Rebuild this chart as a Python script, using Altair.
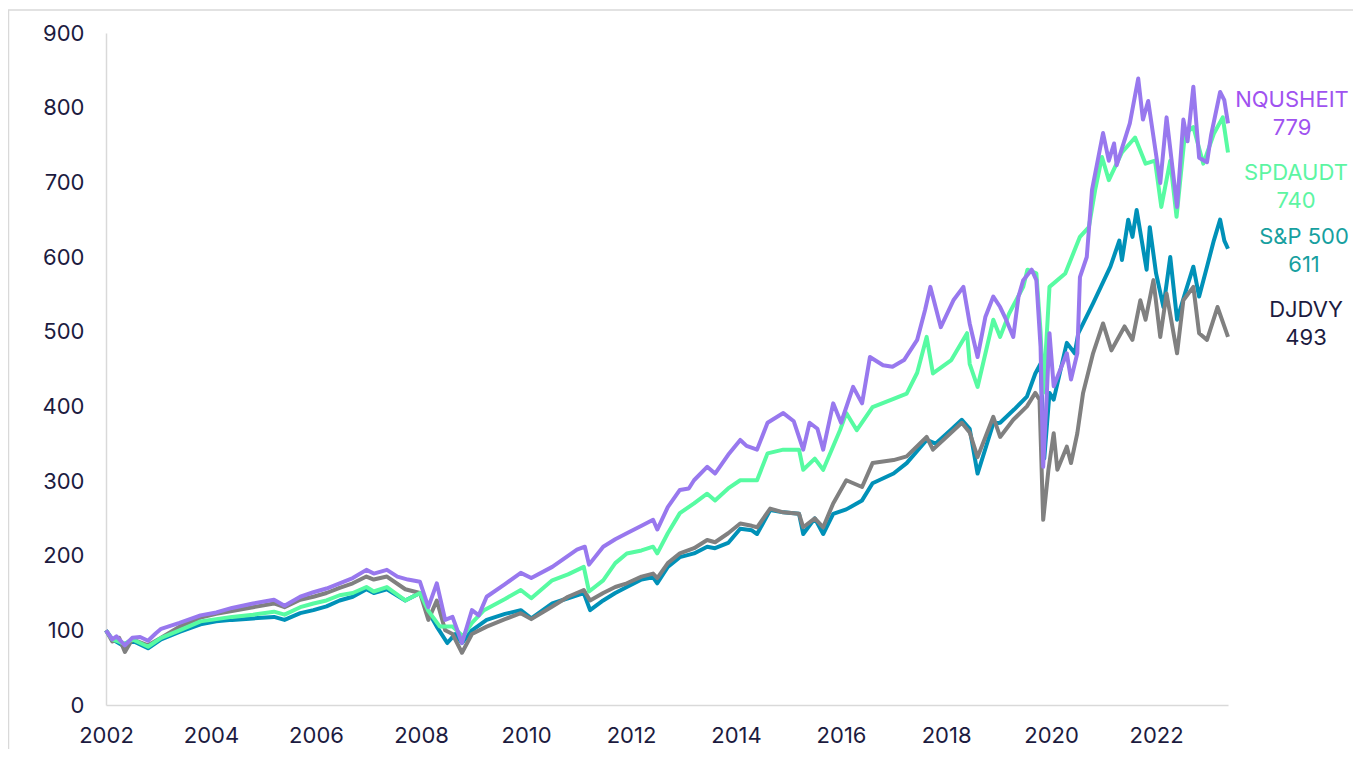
import altair as alt
import pandas as pd

# ---------------- data ----------------
nq_dates = [2002.00, 2002.12, 2002.2, 2002.36, 2002.5, 2002.65, 2002.8, 2002.95, 2003.05, 2003.4,
            2003.8, 2004.1, 2004.4, 2004.8, 2005.2, 2005.4, 2005.7, 2005.95, 2006.2, 2006.45,
            2006.7, 2006.96, 2007.1, 2007.35, 2007.55, 2007.75, 2007.98, 2008.14, 2008.3, 2008.46,
            2008.6, 2008.78, 2008.97, 2009.1, 2009.25, 2009.6, 2009.9, 2010.1, 2010.5, 2010.97,
            2011.12, 2011.2, 2011.47, 2011.7, 2011.92, 2012.2, 2012.42, 2012.5, 2012.7, 2012.93,
            2013.1, 2013.2, 2013.45, 2013.6, 2013.85, 2014.08, 2014.2, 2014.4, 2014.6, 2014.9,
            2015.1, 2015.28, 2015.4, 2015.55, 2015.66, 2015.85, 2016.0, 2016.23, 2016.4, 2016.55,
            2016.8, 2016.98, 2017.2, 2017.45, 2017.6, 2017.7, 2017.9, 2018.14, 2018.33, 2018.45,
            2018.6, 2018.75, 2018.9, 2019.03, 2019.15, 2019.28, 2019.38, 2019.47, 2019.63, 2019.72,
            2019.8, 2019.85, 2019.92, 2019.97, 2020.05, 2020.3, 2020.38, 2020.5, 2020.55, 2020.68,
            2020.78, 2020.99, 2021.1, 2021.2, 2021.25, 2021.5, 2021.66, 2021.75, 2021.85, 2022.08,
            2022.2, 2022.4, 2022.52, 2022.6, 2022.71, 2022.82, 2022.97, 2023.05, 2023.22, 2023.3,
            2023.37]
nq_values = [100, 88, 92, 80, 90, 91, 86, 96, 102, 110,
             120, 124, 130, 136, 141, 133, 145, 151, 156, 163,
             170, 181, 176, 181, 172, 168, 165, 131, 163, 114,
             118, 83, 127, 120, 145, 162, 177, 170, 185, 208,
             212, 188, 212, 222, 230, 240, 248, 235, 265, 288,
             290, 301, 319, 310, 335, 355, 347, 342, 378, 391,
             380, 342, 378, 370, 342, 404, 378, 426, 404, 466,
             455, 453, 462, 489, 529, 560, 506, 542, 560, 511,
             466, 520, 547, 533, 515, 493, 547, 569, 583, 569,
             480, 319, 418, 498, 427, 471, 436, 471, 573, 600,
             690, 766, 729, 752, 723, 779, 839, 784, 809, 699,
             787, 667, 784, 755, 828, 733, 727, 764, 821, 810,
             779]

sp_aud_dates = [2002.00, 2002.12, 2002.36, 2002.5, 2002.8, 2003.05, 2003.4, 2003.8, 2004.1, 2004.4,
                2004.8, 2005.2, 2005.4, 2005.7, 2005.95, 2006.2, 2006.45, 2006.7, 2006.96, 2007.1,
                2007.35, 2007.7, 2007.98, 2008.14, 2008.36, 2008.6, 2008.8, 2008.97, 2009.2, 2009.6,
                2009.9, 2010.1, 2010.5, 2010.8, 2011.1, 2011.2, 2011.47, 2011.7, 2011.92, 2012.2,
                2012.42, 2012.5, 2012.7, 2012.93, 2013.2, 2013.45, 2013.6, 2013.85, 2014.08, 2014.4,
                2014.6, 2014.9, 2015.2, 2015.28, 2015.5, 2015.66, 2015.98, 2016.1, 2016.3, 2016.6,
                2017.0, 2017.25, 2017.45, 2017.63, 2017.75, 2018.1, 2018.4, 2018.45, 2018.6, 2018.9,
                2019.03, 2019.2, 2019.47, 2019.55, 2019.72, 2019.8, 2019.85, 2019.92, 2019.97, 2020.27,
                2020.55, 2020.72, 2020.84, 2020.97, 2021.1, 2021.35, 2021.6, 2021.8, 2021.98, 2022.1,
                2022.27, 2022.39, 2022.55, 2022.71, 2022.9, 2023.1, 2023.27, 2023.37]
sp_aud_values = [100, 88, 82, 88, 78, 90, 100, 112, 115, 118,
                 121, 125, 121, 131, 136, 140, 147, 150, 158, 152,
                 158, 140, 150, 126, 105, 105, 92, 110, 127, 142,
                 154, 143, 167, 175, 185, 152, 167, 190, 203, 207,
                 212, 203, 230, 257, 270, 283, 274, 290, 301, 301,
                 337, 342, 342, 315, 330, 315, 368, 391, 368, 399,
                 410, 417, 445, 493, 444, 462, 498, 457, 426, 516,
                 493, 524, 560, 583, 578, 500, 418, 498, 560, 578,
                 627, 640, 690, 734, 703, 740, 760, 725, 729, 667,
                 729, 654, 765, 774, 725, 765, 787, 740]

spx_dates = [2002.00, 2002.12, 2002.36, 2002.5, 2002.8, 2003.05, 2003.4, 2003.8, 2004.1, 2004.4,
             2004.8, 2005.2, 2005.4, 2005.7, 2005.95, 2006.2, 2006.45, 2006.7, 2006.96, 2007.1,
             2007.35, 2007.7, 2007.98, 2008.14, 2008.3, 2008.5, 2008.65, 2008.78, 2008.97, 2009.25,
             2009.6, 2009.9, 2010.1, 2010.5, 2010.8, 2011.1, 2011.22, 2011.47, 2011.7, 2011.92,
             2012.2, 2012.42, 2012.5, 2012.7, 2012.93, 2013.2, 2013.45, 2013.6, 2013.85, 2014.08,
             2014.3, 2014.4, 2014.65, 2014.9, 2015.2, 2015.28, 2015.5, 2015.66, 2015.85, 2016.1,
             2016.4, 2016.6, 2017.0, 2017.25, 2017.63, 2017.8, 2018.1, 2018.3, 2018.45, 2018.6,
             2018.9, 2019.03, 2019.3, 2019.54, 2019.7, 2019.8, 2019.87, 2019.97, 2020.05, 2020.3,
             2020.45, 2020.52, 2020.8, 2021.13, 2021.3, 2021.35, 2021.47, 2021.55, 2021.63, 2021.82,
             2021.88, 2022.0, 2022.14, 2022.27, 2022.4, 2022.55, 2022.71, 2022.82, 2022.97, 2023.1,
             2023.22, 2023.3, 2023.37]
spx_values = [100, 88, 78, 86, 76, 88, 98, 108, 112, 114,
              116, 118, 114, 123, 127, 132, 140, 145, 155, 150,
              155, 140, 150, 125, 105, 83, 95, 83, 100, 114,
              122, 127, 116, 136, 143, 150, 127, 140, 150, 158,
              168, 171, 163, 185, 198, 203, 212, 210, 217, 236,
              234, 229, 261, 258, 256, 229, 250, 229, 256, 262,
              274, 297, 310, 324, 355, 350, 369, 382, 370, 310,
              377, 378, 396, 413, 444, 457, 330, 418, 409, 485,
              471, 498, 538, 587, 622, 596, 650, 627, 663, 583,
              640, 578, 533, 600, 516, 551, 587, 547, 587, 622,
              650, 622, 611]

dj_dates = [2002.00, 2002.12, 2002.25, 2002.36, 2002.5, 2002.8, 2003.05, 2003.4, 2003.8, 2004.1,
            2004.4, 2004.8, 2005.2, 2005.4, 2005.7, 2005.95, 2006.2, 2006.45, 2006.7, 2006.96,
            2007.1, 2007.35, 2007.7, 2007.98, 2008.14, 2008.3, 2008.46, 2008.6, 2008.78, 2008.97,
            2009.25, 2009.6, 2009.9, 2010.1, 2010.5, 2010.8, 2011.1, 2011.22, 2011.47, 2011.7,
            2011.92, 2012.2, 2012.42, 2012.5, 2012.7, 2012.93, 2013.2, 2013.45, 2013.6, 2013.85,
            2014.08, 2014.3, 2014.4, 2014.65, 2014.9, 2015.2, 2015.28, 2015.5, 2015.66, 2015.85,
            2016.1, 2016.4, 2016.6, 2017.0, 2017.25, 2017.63, 2017.75, 2018.1, 2018.3, 2018.45,
            2018.6, 2018.9, 2019.03, 2019.28, 2019.54, 2019.7, 2019.78, 2019.85, 2019.95, 2020.05,
            2020.12, 2020.3, 2020.38, 2020.5, 2020.61, 2020.8, 2020.99, 2021.15, 2021.4, 2021.55,
            2021.7, 2021.8, 2021.95, 2022.08, 2022.2, 2022.4, 2022.52, 2022.71, 2022.82, 2022.97,
            2023.17, 2023.3, 2023.37]
dj_values = [100, 85, 90, 71, 88, 80, 90, 105, 117, 122,
             126, 131, 136, 131, 141, 145, 150, 157, 163, 172,
             168, 172, 155, 150, 114, 140, 100, 95, 70, 95,
             105, 115, 123, 115, 132, 145, 154, 140, 150, 158,
             163, 172, 176, 170, 190, 203, 210, 221, 218, 230,
             243, 240, 238, 263, 258, 256, 238, 250, 238, 270,
             301, 292, 324, 328, 333, 359, 342, 365, 378, 365,
             332, 386, 359, 382, 400, 418, 409, 248, 315, 364,
             315, 346, 324, 364, 418, 471, 511, 475, 507, 489,
             542, 516, 569, 493, 551, 471, 542, 560, 498, 489,
             533, 507, 493]

series_names = ["NQUSHEIT", "SPDAUDT", "S&P 500", "DJDVY"]
final_values = [779, 740, 611, 493]
line_colors = ["#9878EE", "#57FBA2", "#0091B8", "#808080"]
text_colors = ["#A052F0", "#5CF5A2", "#17A0A0", "#1C1B3F"]
x_ticks = [2002, 2004, 2006, 2008, 2010, 2012, 2014, 2016, 2018, 2020, 2022]
y_ticks = [0, 100, 200, 300, 400, 500, 600, 700, 800, 900]

# ---------------- build tables ----------------
series_data = {
    "NQUSHEIT": (nq_dates, nq_values),
    "SPDAUDT": (sp_aud_dates, sp_aud_values),
    "S&P 500": (spx_dates, spx_values),
    "DJDVY": (dj_dates, dj_values),
}
rows = []
for name, (d, v) in series_data.items():
    for xx, yy in zip(d, v):
        rows.append({"series": name, "year": xx, "value": yy})
df = pd.DataFrame(rows)

label_df = pd.DataFrame({
    "series": series_names,
    "text": [[n, str(v)] for n, v in zip(series_names, final_values)],
})
one_row = pd.DataFrame({"k": [0]})

FONT = "Inter"
AXIS_GREY = "#D9D9D9"
LABEL_COL = "#1C1B3F"

x_enc = alt.X(
    "year:Q",
    scale=alt.Scale(domain=[2002, 2023.37], nice=False, zero=False),
    axis=alt.Axis(values=x_ticks, format="d", title=None, labelPadding=20,
                  labelFlush=False),
)
y_enc = alt.Y(
    "value:Q",
    scale=alt.Scale(domain=[0, 900], nice=False),
    axis=alt.Axis(values=y_ticks, title=None, labelPadding=22),
)

base = alt.Chart(df)
layers = []
# draw order: S&P 500 (bottom), DJDVY, SPDAUDT, NQUSHEIT (top)
for name in ["S&P 500", "DJDVY", "SPDAUDT", "NQUSHEIT"]:
    i = series_names.index(name)
    layers.append(
        base.transform_filter(alt.datum.series == name)
        .mark_line(strokeWidth=4, color=line_colors[i], strokeJoin="round")
        .encode(x=x_enc, y=y_enc)
    )

# end labels (name + last value), one text per series
label_x = [1186, 1190, 1198, 1200]
label_y = [67, 140, 204, 277]
for i, name in enumerate(series_names):
    layers.append(
        alt.Chart(label_df).transform_filter(alt.datum.series == name).mark_text(
            font=FONT, fontSize=22, fontWeight="normal", color=text_colors[i],
            align="center", baseline="middle", lineHeight=28,
        ).encode(
            x=alt.value(label_x[i]), y=alt.value(label_y[i]),
            text="text",
        )
    )

# outer frame lines
frame_top = alt.Chart(one_row).mark_rule(color=AXIS_GREY, strokeWidth=1.5).encode(
    x=alt.value(-98), x2=alt.value(1400), y=alt.value(-23))
frame_left = alt.Chart(one_row).mark_rule(color=AXIS_GREY, strokeWidth=1.5).encode(
    x=alt.value(-97.5), y=alt.value(-23), y2=alt.value(800))
layers += [frame_top, frame_left]

chart = alt.layer(*layers).properties(
    width=1122, height=672,
    autosize=alt.AutoSizeParams(type="none"),
    padding={"left": 98, "top": 25, "right": 125, "bottom": 44},
).configure_view(stroke=None).configure_axis(
    labelFont=FONT, labelFontSize=22, labelColor=LABEL_COL,
    domainColor=AXIS_GREY, domainWidth=1.5, ticks=False, tickSize=0, grid=False,
)

chart.save("out.html", embed_options={"renderer": "svg", "actions": False})
